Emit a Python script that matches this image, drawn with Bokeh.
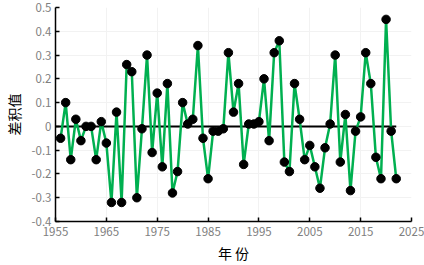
from bokeh.plotting import figure
from bokeh.models import Range1d, FixedTicker, ColumnDataSource
from bokeh.embed import file_html
from bokeh.resources import INLINE

years = list(range(1956, 2023))
values = [-0.05, 0.10, -0.14, 0.03, -0.06, 0.00, 0.00, -0.14, 0.02, -0.07,
          -0.32, 0.06, -0.32, 0.26, 0.23, -0.30, -0.01, 0.30, -0.11, 0.14,
          -0.17, 0.18, -0.28, -0.19, 0.10, 0.01, 0.03, 0.34, -0.05, -0.22,
          -0.02, -0.02, -0.01, 0.31, 0.06, 0.18, -0.16, 0.01, 0.01, 0.02,
          0.20, -0.06, 0.31, 0.36, -0.15, -0.19, 0.18, 0.03, -0.14, -0.08,
          -0.17, -0.26, -0.09, 0.01, 0.30, -0.15, 0.05, -0.27, -0.02, 0.04,
          0.31, 0.18, -0.13, -0.22, 0.45, -0.02, -0.22]
x_ticks = [1955, 1965, 1975, 1985, 1995, 2005, 2015, 2025]
y_ticks = [-0.4, -0.3, -0.2, -0.1, 0, 0.1, 0.2, 0.3, 0.4, 0.5]
y_labels = {-0.4: "-0.4", -0.3: "-0.3", -0.2: "-0.2", -0.1: "-0.1", 0: "0",
            0.1: "0.1", 0.2: "0.2", 0.3: "0.3", 0.4: "0.4", 0.5: "0.5"}
x_label = "年 份"
y_label = "差积值"
zero_span = [1955, 2022]

FONT = "Noto Sans CJK SC"
src = ColumnDataSource(dict(x=years, y=values))

p = figure(width=424, height=265, output_backend="svg", toolbar_location=None,
           x_range=Range1d(1955, 2025), y_range=Range1d(-0.4, 0.5),
           min_border_left=52, min_border_right=13, min_border_top=7,
           min_border_bottom=40)
p.outline_line_color = None
p.background_fill_color = "white"

p.line(zero_span, [0, 0], line_color="black", line_width=2)
p.line("x", "y", source=src, line_color="#00b050", line_width=2.5)
p.scatter("x", "y", source=src, size=8.5, fill_color="black", line_color="black")

p.xaxis.ticker = FixedTicker(ticks=x_ticks)
p.yaxis.ticker = FixedTicker(ticks=y_ticks)
p.yaxis.major_label_overrides = y_labels
for ax in (p.xaxis, p.yaxis):
    ax.axis_line_color = "black"
    ax.axis_line_width = 1.5
    ax.major_tick_in = 4
    ax.major_tick_out = 0
    ax.major_tick_line_color = "black"
    ax.major_tick_line_width = 1.5
    ax.minor_tick_line_color = None
    ax.major_label_text_color = "#808080"
    ax.major_label_text_font = FONT
    ax.major_label_text_font_size = "11.5px"
    ax.axis_label_text_font = FONT
    ax.axis_label_text_font_size = "14px"
    ax.axis_label_text_font_style = "normal"
    ax.axis_label_text_color = "black"
p.xaxis.axis_label = x_label
p.yaxis.axis_label = y_label
p.xaxis.major_label_standoff = 5
p.yaxis.major_label_standoff = 4
p.xaxis.axis_label_standoff = 4
p.yaxis.axis_label_standoff = 5

p.xgrid.ticker = FixedTicker(ticks=x_ticks)
p.ygrid.ticker = FixedTicker(ticks=y_ticks)
p.grid.grid_line_color = "#f2f2f2"
p.grid.grid_line_width = 1

open("out.html", "w").write(file_html(p, INLINE))
